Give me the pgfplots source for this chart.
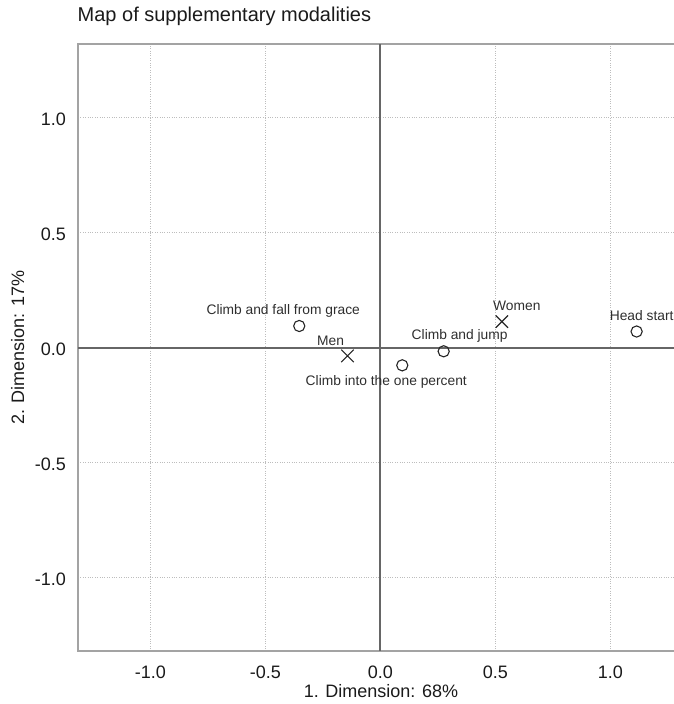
\documentclass[border=0pt]{standalone}
\usepackage{pgfplots}
\usepackage{pgfplotstable}
\pgfplotsset{compat=1.18}
\usepackage{fontspec}
\setmainfont{Liberation Sans}
\definecolor{framecol}{HTML}{A3A3A3}
\definecolor{zerocol}{HTML}{666666}
\definecolor{gridcol}{HTML}{BDBDBD}
\definecolor{txt}{HTML}{1A1A1A}
\definecolor{lbl}{HTML}{2E2E2E}

\pgfplotstableread{
x y
-0.353 0.094
0.095 -0.077
0.275 -0.016
1.114 0.070
}\circtab

\pgfplotstableread{
x y
-0.143 -0.036
0.528 0.113
}\crosstab

\begin{document}
\begin{tikzpicture}[lab/.style={anchor=center, inner sep=0pt, font=\fontsize{13.8}{16}\selectfont, text=lbl}]
\begin{axis}[
  name=ax,
  scale only axis,
  width=606pt, height=607pt,
  xmin=-1.315, xmax=1.32,
  ymin=-1.319, ymax=1.320,
  xtick={-1,-0.5,0,0.5,1},
  ytick={-1,-0.5,0,0.5,1},
  xticklabels={-1.0,-0.5,0.0,0.5,1.0},
  yticklabels={-1.0,-0.5,0.0,0.5,1.0},
  major tick length=0pt,
  axis line style={draw=none},
  grid=major,
  grid style={dotted, color=gridcol, line width=0.9pt},
  xticklabel style={font=\fontsize{18}{20}\selectfont, text=txt, anchor=base, inner sep=0pt, yshift=-27.3pt},
  yticklabel style={font=\fontsize{18}{20}\selectfont, text=txt, anchor=east, inner sep=0pt, xshift=-12pt, yshift=-2pt},
  xlabel={1. Dimension: 68\%},
  ylabel={2. Dimension: 17\%},
  xlabel style={font=\fontsize{18}{20}\selectfont, text=txt, at={(axis description cs:0.5,-0.0769)}, anchor=base, inner sep=0pt},
  ylabel style={font=\fontsize{18}{20}\selectfont, text=txt, at={(axis description cs:-0.0891,0.5)}, anchor=base, inner sep=0pt},
  title={Map of supplementary modalities},
  title style={font=\fontsize{20}{24}\selectfont, text=txt, at={(axis description cs:0,1)}, anchor=base west, inner sep=0pt, yshift=16.3pt, xshift=-0.5pt},
  clip=false,
]
\draw[framecol, line width=1.5pt] (rel axis cs:1,1) -- (rel axis cs:0,1) -- (rel axis cs:0,0) -- (rel axis cs:1,0);
\draw[zerocol, line width=2pt] (axis cs:0,-1.319) -- (axis cs:0,1.320);
\draw[zerocol, line width=2pt] (axis cs:-1.315,0) -- (axis cs:1.32,0);

\addplot[only marks, mark=o, mark size=5.6pt, mark options={line width=1.1pt, draw=black!85}]
  table[x=x, y=y] {\circtab};
\addplot[only marks, mark=x, mark size=8.8pt, mark options={line width=1.1pt, draw=black!85}]
  table[x=x, y=y] {\crosstab};

\node[lab, xshift=-16pt, yshift=15pt] at (axis cs:-0.353,0.094) {Climb and fall from grace};
\node[lab, xshift=-16pt, yshift=-17pt] at (axis cs:0.095,-0.077) {Climb into the one percent};
\node[lab, xshift=16pt, yshift=15pt] at (axis cs:0.275,-0.016) {Climb and jump};
\node[lab, xshift=5pt, yshift=16pt] at (axis cs:1.114,0.070) {Head start};
\node[lab, xshift=-17pt, yshift=15pt] at (axis cs:-0.143,-0.036) {Men};
\node[lab, xshift=15pt, yshift=16pt] at (axis cs:0.528,0.113) {Women};
\end{axis}
\pgfresetboundingbox
\useasboundingbox ([shift={(-78pt,-53pt)}]ax.south west) rectangle ([shift={(596pt,651pt)}]ax.south west);
\end{tikzpicture}
\end{document}
